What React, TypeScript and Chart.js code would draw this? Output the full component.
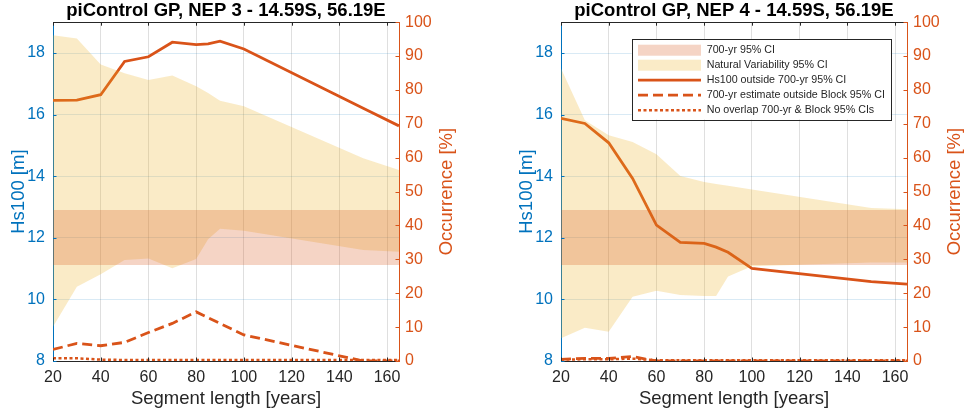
import React, { useEffect, useRef } from "react";
import { Chart, registerables } from "chart.js";

Chart.register(...registerables);

// ---------------- data ----------------
const segmentLength = [20, 30, 40, 50, 60, 70, 80, 85, 90, 100, 150, 165];
const xTicks = [20, 40, 60, 80, 100, 120, 140, 160];
const hsTicks = [8, 10, 12, 14, 16, 18];
const occTicks = [0, 10, 20, 30, 40, 50, 60, 70, 80, 90, 100];

// NEP 3
const nep3Ci700 = [11.12, 12.9];
const nep3NvLower = [9.11, 10.41, 10.82, 11.28, 11.33, 11.01, 11.31, 11.95, 12.29, 12.23, 11.6, 11.55];
const nep3NvUpper = [18.58, 18.47, 17.63, 17.34, 17.12, 17.27, 16.92, 16.7, 16.45, 16.27, 14.58, 14.2];
const nep3Hs100Out = [76.9, 77.0, 78.6, 88.4, 89.8, 94.1, 93.4, 93.6, 94.4, 92.1, 74.6, 69.4];
const nep3EstOut = [3.4, 5.2, 4.5, 5.5, 8.4, 11.1, 14.5, 12.8, 11.1, 7.7, 0, 0];
const nep3NoOverlap = [0.8, 0.8, 0.4, 0.3, 0.3, 0.3, 0.3, 0.3, 0.3, 0.3, 0.3, 0.3];

// NEP 4
const nep4Ci700 = [11.12, 12.9];
const nep4NvLower = [8.74, 9.08, 8.95, 10.09, 10.28, 10.14, 10.11, 10.11, 10.74, 11.08, 11.2, 11.2];
const nep4NvUpper = [17.5, 15.82, 15.33, 15.11, 14.71, 14.01, 13.81, 13.75, 13.69, 13.57, 12.97, 12.93];
const nep4Hs100Out = [71.6, 70.1, 64.4, 53.9, 40.1, 35.0, 34.7, 33.6, 32.1, 27.3, 23.4, 22.7];
const nep4EstOut = [0.5, 0.8, 0.8, 1.3, 0, 0, 0, 0, 0, 0, 0, 0];
const nep4NoOverlap = [0.4, 0.5, 0.5, 0.7, 0.2, 0.2, 0.2, 0.2, 0.2, 0.2, 0.2, 0.2];

const titles = [
  "piControl GP, NEP 3 - 14.59S, 56.19E",
  "piControl GP, NEP 4 - 14.59S, 56.19E",
];
const seriesLabels = [
  "700-yr 95% CI",
  "Natural Variability 95% CI",
  "Hs100 outside 700-yr 95% CI",
  "700-yr estimate outside Block 95% CI",
  "No overlap 700-yr & Block 95% CIs",
];
const xTitle = "Segment length [years]";
const yLeftTitle = "Hs100 [m]";
const yRightTitle = "Occurrence [%]";

// ---------------- styles ----------------
const ORANGE = "#d95319";
const BLUE = "#0072bd";
const GRAY = "#262626";
const PINK_FILL = "rgba(217,83,25,0.25)";
const YELLOW_FILL = "rgba(237,177,32,0.25)";
const FONT = "'Liberation Sans', Arial, Helvetica, sans-serif";

const W = 456;
const H = 416;

type Panel = {
  title: string;
  ci: number[];
  nvLower: number[];
  nvUpper: number[];
  hsOut: number[];
  estOut: number[];
  noOverlap: number[];
  legend: boolean;
};

const panels: Panel[] = [
  { title: titles[0], ci: nep3Ci700, nvLower: nep3NvLower, nvUpper: nep3NvUpper, hsOut: nep3Hs100Out, estOut: nep3EstOut, noOverlap: nep3NoOverlap, legend: false },
  { title: titles[1], ci: nep4Ci700, nvLower: nep4NvLower, nvUpper: nep4NvUpper, hsOut: nep4Hs100Out, estOut: nep4EstOut, noOverlap: nep4NoOverlap, legend: true },
];

const pts = (ys: number[]) => segmentLength.map((x, i) => ({ x, y: ys[i] }));

const framePlugin = {
  id: "frame",
  afterDraw(chart: any) {
    const { ctx, chartArea: a, scales } = chart;
    const tl = 3.5;
    ctx.save();
    ctx.lineWidth = 1;
    // top border + x ticks (inward)
    ctx.strokeStyle = GRAY;
    ctx.beginPath();
    ctx.moveTo(a.left, Math.round(a.top) + 0.5);
    ctx.lineTo(a.right, Math.round(a.top) + 0.5);
    for (const t of scales.x.ticks) {
      const px = Math.round(scales.x.getPixelForValue(t.value)) + 0.5;
      ctx.moveTo(px, a.bottom);
      ctx.lineTo(px, a.bottom - tl);
      ctx.moveTo(px, a.top);
      ctx.lineTo(px, a.top + tl);
    }
    ctx.stroke();
    // left ticks
    ctx.strokeStyle = BLUE;
    ctx.beginPath();
    for (const t of scales.y.ticks) {
      const py = Math.round(scales.y.getPixelForValue(t.value)) + 0.5;
      ctx.moveTo(a.left, py);
      ctx.lineTo(a.left + tl, py);
    }
    ctx.stroke();
    // right ticks
    ctx.strokeStyle = ORANGE;
    ctx.beginPath();
    for (const t of scales.y1.ticks) {
      const py = Math.round(scales.y1.getPixelForValue(t.value)) + 0.5;
      ctx.moveTo(a.right, py);
      ctx.lineTo(a.right - tl, py);
    }
    ctx.stroke();
    // right axis title (reads bottom to top)
    ctx.fillStyle = ORANGE;
    ctx.font = `18.5px ${FONT}`;
    ctx.textAlign = "center";
    ctx.textBaseline = "middle";
    ctx.translate(a.right + 48, (a.top + a.bottom) / 2);
    ctx.rotate(-Math.PI / 2);
    ctx.fillText(yRightTitle, 0, 0);
    ctx.restore();

    // legend
    if (chart.options.plugins.boxLegend && chart.options.plugins.boxLegend.display) {
      const bx = a.left + 70.7;
      const by = a.top + 16.7;
      const bw = 259;
      const bh = 80.6;
      ctx.save();
      ctx.fillStyle = "#ffffff";
      ctx.fillRect(bx, by, bw, bh);
      ctx.strokeStyle = GRAY;
      ctx.lineWidth = 1;
      ctx.strokeRect(Math.round(bx) + 0.5, Math.round(by) + 0.5, Math.round(bw), Math.round(bh));
      const items = chart.data.datasets.filter((d: any) => d.label);
      items.forEach((d: any, i: number) => {
        const cy = by + 11.3 + i * 15;
        const sx0 = bx + 6.3;
        const sx1 = bx + 69.3;
        if (d.fill) {
          ctx.fillStyle = d.backgroundColor;
          ctx.fillRect(sx0, cy - 5.5, sx1 - sx0, 11);
        } else {
          ctx.strokeStyle = d.borderColor;
          ctx.lineWidth = d.borderWidth;
          ctx.setLineDash(d.borderDash || []);
          ctx.beginPath();
          ctx.moveTo(sx0, cy);
          ctx.lineTo(sx1, cy);
          ctx.stroke();
          ctx.setLineDash([]);
        }
        ctx.fillStyle = GRAY;
        ctx.font = `10.7px ${FONT}`;
        ctx.textAlign = "left";
        ctx.textBaseline = "middle";
        ctx.fillText(d.label, bx + 75, cy);
      });
      ctx.restore();
    }
  },
};

function makeConfig(p: Panel): any {
  const band = (v: number) => segmentLength.map((x) => ({ x, y: v }));
  const hidden = { borderWidth: 0, pointRadius: 0, borderColor: "rgba(0,0,0,0)", yAxisID: "y" };
  return {
    type: "line",
    data: {
      datasets: [
        { ...hidden, data: band(p.ci[0]), fill: false },
        { ...hidden, label: seriesLabels[0], data: band(p.ci[1]), fill: "-1", backgroundColor: PINK_FILL },
        { ...hidden, data: pts(p.nvLower), fill: false },
        { ...hidden, label: seriesLabels[1], data: pts(p.nvUpper), fill: "-1", backgroundColor: YELLOW_FILL },
        { label: seriesLabels[2], data: pts(p.hsOut), yAxisID: "y1", borderColor: ORANGE, borderWidth: 2.8, pointRadius: 0, fill: false, tension: 0 },
        { label: seriesLabels[3], data: pts(p.estOut), yAxisID: "y1", borderColor: ORANGE, borderWidth: 2.8, borderDash: [10, 5], pointRadius: 0, fill: false, tension: 0 },
        { label: seriesLabels[4], data: pts(p.noOverlap), yAxisID: "y1", borderColor: ORANGE, borderWidth: 2.5, borderDash: [3, 2.5], pointRadius: 0, fill: false, tension: 0 },
      ],
    },
    options: {
      responsive: false,
      animation: false,
      devicePixelRatio: 1,
      layout: { padding: 0 },
      plugins: {
        legend: { display: false },
        tooltip: { enabled: false },
        boxLegend: { display: p.legend },
        title: {
          display: true,
          text: p.title,
          fullSize: false,
          color: "#000000",
          font: { family: FONT, size: 18.5, weight: "bold", lineHeight: 1.2 },
          padding: { top: 0, bottom: 0 },
        },
      },
      scales: {
        x: {
          type: "linear",
          min: 20,
          max: 165,
          z: 1,
          afterBuildTicks: (s: any) => { s.ticks = xTicks.map((v) => ({ value: v })); },
          afterFit: (s: any) => { s.height = 55; },
          grid: { color: "rgba(38,38,38,0.15)", drawTicks: false, lineWidth: 1 },
          border: { color: GRAY, width: 1 },
          ticks: { color: GRAY, padding: 7, maxRotation: 0, autoSkip: false, font: { family: FONT, size: 16 } },
          title: { display: true, text: xTitle, color: GRAY, font: { family: FONT, size: 18.5 }, padding: { top: 0, bottom: 6 } },
        },
        y: {
          type: "linear",
          position: "left",
          min: 8,
          max: 19,
          z: 1,
          afterBuildTicks: (s: any) => { s.ticks = hsTicks.map((v) => ({ value: v })); },
          afterFit: (s: any) => { s.width = 53; },
          grid: { color: "rgba(0,114,189,0.15)", drawTicks: false, lineWidth: 1 },
          border: { color: BLUE, width: 1 },
          ticks: { color: BLUE, padding: 8, font: { family: FONT, size: 16 } },
          title: { display: true, text: yLeftTitle, color: BLUE, font: { family: FONT, size: 18.5 }, padding: { top: 8, bottom: 0 } },
        },
        y1: {
          type: "linear",
          position: "right",
          min: 0,
          max: 100,
          afterBuildTicks: (s: any) => { s.ticks = occTicks.map((v) => ({ value: v })); },
          afterFit: (s: any) => { s.width = 57; },
          grid: { display: false, drawTicks: false },
          border: { color: ORANGE, width: 1 },
          ticks: { color: ORANGE, padding: 6, font: { family: FONT, size: 16 } },
        },
      },
    },
    plugins: [framePlugin],
  };
}

function PanelChart({ panel, left }: { panel: Panel; left: number }) {
  const ref = useRef<HTMLCanvasElement>(null);
  useEffect(() => {
    const chart = new Chart(ref.current as HTMLCanvasElement, makeConfig(panel));
    return () => chart.destroy();
  }, [panel]);
  return (
    <canvas
      ref={ref}
      width={W}
      height={H}
      style={{ position: "absolute", left, top: 0, width: W, height: H }}
    />
  );
}

export default function App() {
  return (
    <div style={{ position: "absolute", left: 0, top: 0, width: 964, height: 416, background: "#ffffff", overflow: "hidden" }}>
      <PanelChart panel={panels[0]} left={0} />
      <PanelChart panel={panels[1]} left={508} />
    </div>
  );
}
